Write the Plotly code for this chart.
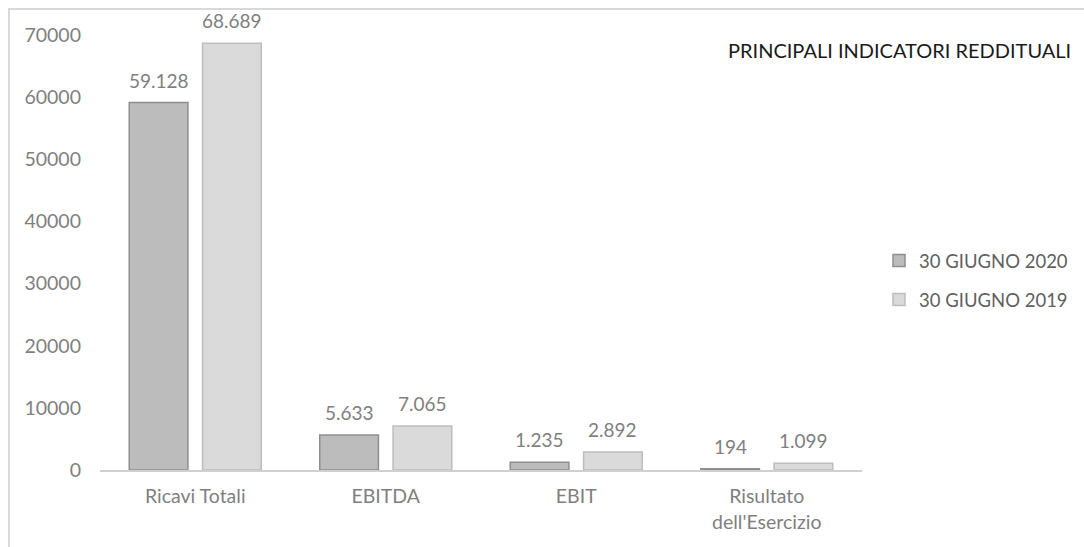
import plotly.graph_objects as go

# Principali indicatori reddituali (valori in migliaia di euro)
categories = ["Ricavi Totali", "EBITDA", "EBIT", "Risultato<br>dell'Esercizio"]
series_2020 = [59128, 5633, 1235, 194]
series_2019 = [68689, 7065, 2892, 1099]
series_names = ["30 GIUGNO 2020", "30 GIUGNO 2019"]
y_ticks = [0, 10000, 20000, 30000, 40000, 50000, 60000, 70000]

FONT = "Lato, Open Sans, sans-serif"
GRAY = "#7f7f7f"

# plot area spans x 100..862, y 35..470 (pixels)
L, R, T, B = 100, 862, 35, 470
W, H = 1084, 547
BARGAP, GROUPGAP = 0.23, 0.2

fig = go.Figure()
fig.add_trace(go.Bar(
    x=categories, y=series_2020, name=series_names[0], legendgroup="a",
    marker=dict(color="#bcbcbc", line=dict(color="#8e8e8e", width=1.5)),
))
fig.add_trace(go.Bar(
    x=categories, y=series_2019, name=series_names[1], legendgroup="b",
    marker=dict(color="#dadada", line=dict(color="#bdbdbd", width=1.5)),
))

# value labels sit above each bar; horizontal shift = half of one bar slot
slot_px = (R - L) / len(categories) * (1 - BARGAP) / 2
labels = []
for series, shift in ((series_2020, -slot_px / 2), (series_2019, slot_px / 2)):
    for cat, val in zip(categories, series):
        labels.append(dict(
            x=cat, y=val, xref="x", yref="y",
            text=f"{val:,}".replace(",", "."),
            xshift=shift, yshift=9, yanchor="bottom", xanchor="center",
            showarrow=False,
            font=dict(size=19, color=GRAY, family=FONT),
        ))


def px(x):
    return (x - L) / (R - L)


def py(y):
    return (B - y) / (B - T)


fig.update_layout(
    width=W, height=H,
    margin=dict(l=L, r=W - R, t=T, b=H - B, autoexpand=False),
    paper_bgcolor="white", plot_bgcolor="white",
    barmode="group", bargap=BARGAP, bargroupgap=GROUPGAP,
    font=dict(family=FONT, color=GRAY, size=16),
    showlegend=True,
    legend=dict(
        x=px(879), y=py(242), xanchor="left", yanchor="top",
        font=dict(size=18.5, color="#5f5f5f", family=FONT),
        itemwidth=30, tracegroupgap=12,
        bgcolor="rgba(0,0,0,0)",
    ),
    xaxis=dict(
        showline=True, linecolor="#d0d0d0", linewidth=1.5,
        ticks="", tickfont=dict(size=19.5, color=GRAY, family=FONT),
        ticklabelstandoff=8,
        showgrid=False, fixedrange=True,
    ),
    yaxis=dict(
        range=[0, 70000], tickvals=y_ticks,
        ticktext=[str(v) for v in y_ticks],
        showgrid=False, zeroline=False, showline=False,
        tickfont=dict(size=19.5, color=GRAY, family=FONT),
        ticklabelstandoff=18,
    ),
    annotations=labels + [dict(
        text="PRINCIPALI INDICATORI REDDITUALI",
        xref="paper", yref="paper", x=px(1073), y=py(50),
        xanchor="right", yanchor="middle", showarrow=False,
        font=dict(size=20, color="#1a1a1a", family=FONT),
    )],
    shapes=[
        dict(type="line", xref="paper", yref="paper",
             x0=px(8), x1=px(1084), y0=py(9), y1=py(9),
             line=dict(color="#d9d9d9", width=2)),
        dict(type="line", xref="paper", yref="paper",
             x0=px(9), x1=px(9), y0=py(9), y1=py(547),
             line=dict(color="#d9d9d9", width=2)),
    ],
)

fig.write_html("out.html")
